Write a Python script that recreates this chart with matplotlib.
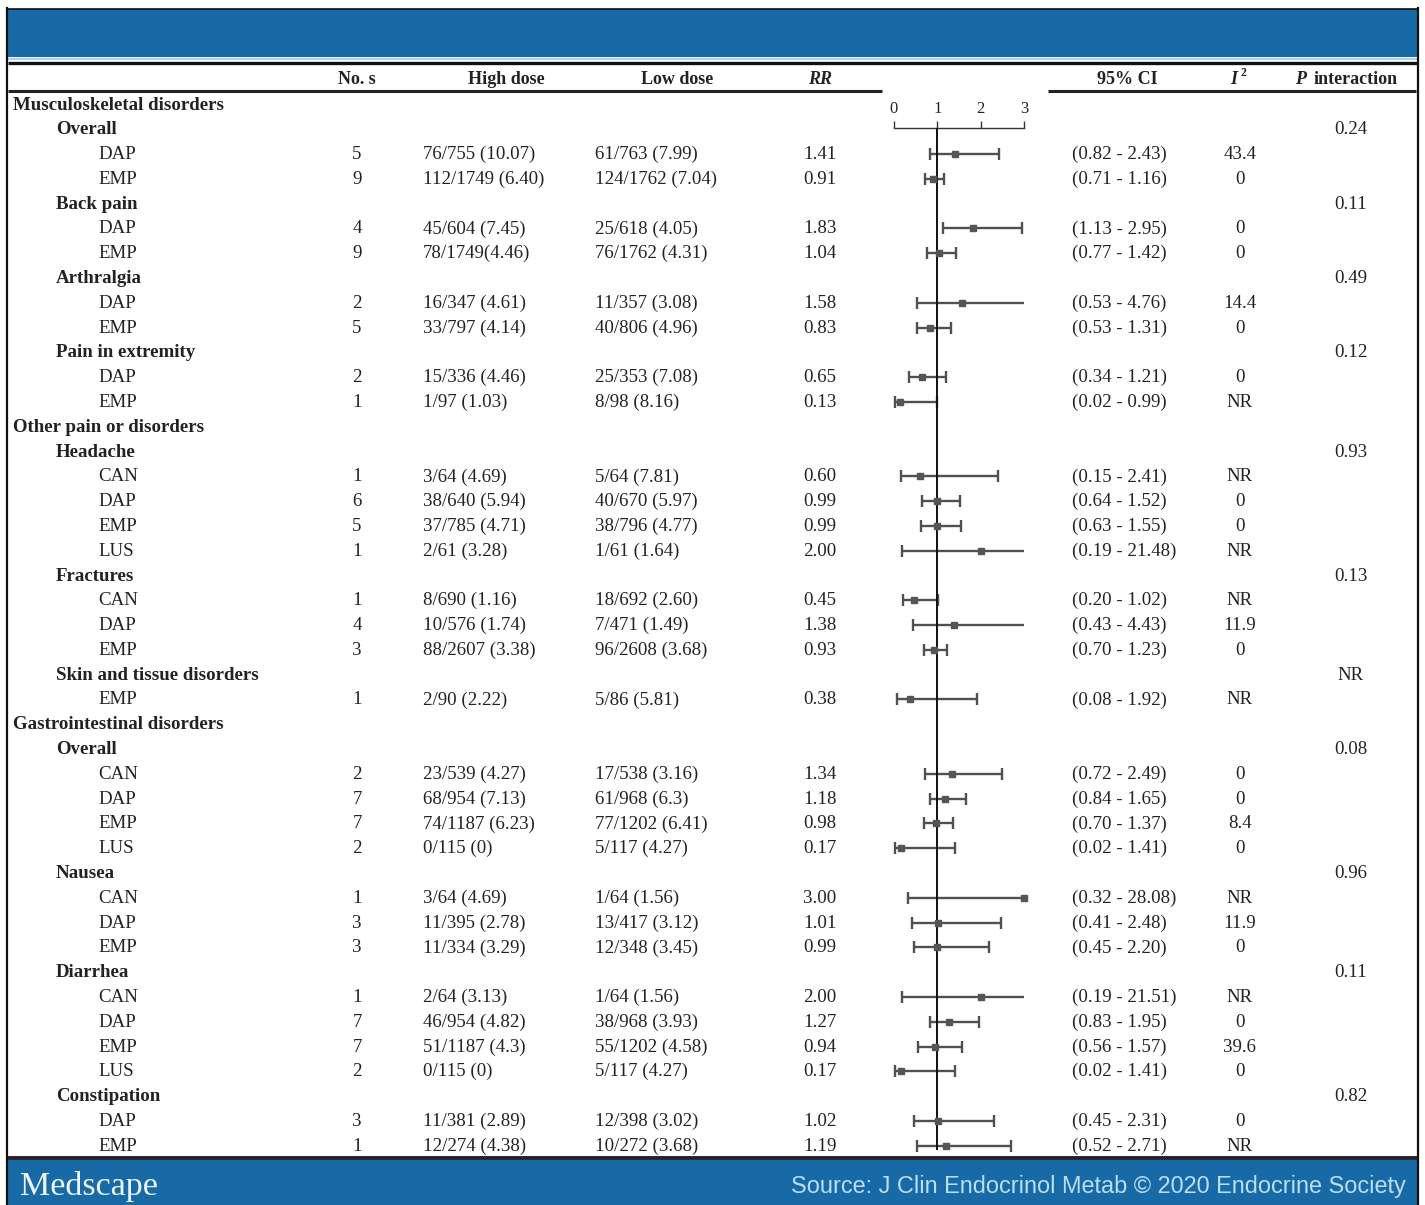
import numpy as np
import matplotlib
matplotlib.use("Agg")
import matplotlib.pyplot as plt
from matplotlib.patches import Rectangle

# ---- table content -------------------------------------------------------
categories = ["Musculoskeletal disorders", "Other pain or disorders",
              "Gastrointestinal disorders"]

subgroups = ["Overall", "Back pain", "Arthralgia", "Pain in extremity",
             "Headache", "Fractures", "Skin and tissue disorders",
             "Overall", "Nausea", "Diarrhea", "Constipation"]
subgroup_category = [0, 0, 0, 0, 1, 1, 1, 2, 2, 2, 2]
p_interaction = ["0.24", "0.11", "0.49", "0.12", "0.93", "0.13", "NR",
                 "0.08", "0.96", "0.11", "0.82"]

row_subgroup = [0, 0, 1, 1, 2, 2, 3, 3, 4, 4, 4, 4, 5, 5, 5, 6,
                7, 7, 7, 7, 8, 8, 8, 9, 9, 9, 9, 10, 10]
drug = ["DAP", "EMP", "DAP", "EMP", "DAP", "EMP", "DAP", "EMP",
        "CAN", "DAP", "EMP", "LUS", "CAN", "DAP", "EMP", "EMP",
        "CAN", "DAP", "EMP", "LUS", "CAN", "DAP", "EMP",
        "CAN", "DAP", "EMP", "LUS", "DAP", "EMP"]
n_studies = [5, 9, 4, 9, 2, 5, 2, 1, 1, 6, 5, 1, 1, 4, 3, 1,
             2, 7, 7, 2, 1, 3, 3, 1, 7, 7, 2, 3, 1]
high_dose = ["76/755 (10.07)", "112/1749 (6.40)", "45/604 (7.45)",
             "78/1749(4.46)", "16/347 (4.61)", "33/797 (4.14)",
             "15/336 (4.46)", "1/97 (1.03)", "3/64 (4.69)", "38/640 (5.94)",
             "37/785 (4.71)", "2/61 (3.28)", "8/690 (1.16)", "10/576 (1.74)",
             "88/2607 (3.38)", "2/90 (2.22)", "23/539 (4.27)", "68/954 (7.13)",
             "74/1187 (6.23)", "0/115 (0)", "3/64 (4.69)", "11/395 (2.78)",
             "11/334 (3.29)", "2/64 (3.13)", "46/954 (4.82)", "51/1187 (4.3)",
             "0/115 (0)", "11/381 (2.89)", "12/274 (4.38)"]
low_dose = ["61/763 (7.99)", "124/1762 (7.04)", "25/618 (4.05)",
            "76/1762 (4.31)", "11/357 (3.08)", "40/806 (4.96)",
            "25/353 (7.08)", "8/98 (8.16)", "5/64 (7.81)", "40/670 (5.97)",
            "38/796 (4.77)", "1/61 (1.64)", "18/692 (2.60)", "7/471 (1.49)",
            "96/2608 (3.68)", "5/86 (5.81)", "17/538 (3.16)", "61/968 (6.3)",
            "77/1202 (6.41)", "5/117 (4.27)", "1/64 (1.56)", "13/417 (3.12)",
            "12/348 (3.45)", "1/64 (1.56)", "38/968 (3.93)", "55/1202 (4.58)",
            "5/117 (4.27)", "12/398 (3.02)", "10/272 (3.68)"]
rr = [1.41, 0.91, 1.83, 1.04, 1.58, 0.83, 0.65, 0.13, 0.60, 0.99, 0.99,
      2.00, 0.45, 1.38, 0.93, 0.38, 1.34, 1.18, 0.98, 0.17, 3.00, 1.01,
      0.99, 2.00, 1.27, 0.94, 0.17, 1.02, 1.19]
ci_low = [0.82, 0.71, 1.13, 0.77, 0.53, 0.53, 0.34, 0.02, 0.15, 0.64, 0.63,
          0.19, 0.20, 0.43, 0.70, 0.08, 0.72, 0.84, 0.70, 0.02, 0.32, 0.41,
          0.45, 0.19, 0.83, 0.56, 0.02, 0.45, 0.52]
ci_high = [2.43, 1.16, 2.95, 1.42, 4.76, 1.31, 1.21, 0.99, 2.41, 1.52, 1.55,
           21.48, 1.02, 4.43, 1.23, 1.92, 2.49, 1.65, 1.37, 1.41, 28.08, 2.48,
           2.20, 21.51, 1.95, 1.57, 1.41, 2.31, 2.71]
i_squared = ["43.4", "0", "0", "0", "14.4", "0", "0", "NR", "NR", "0", "0",
             "NR", "NR", "11.9", "0", "NR", "0", "0", "8.4", "0", "NR", "11.9",
             "0", "NR", "0", "39.6", "0", "0", "NR"]
axis_ticks = [0, 1, 2, 3]

# ---- styling --------------------------------------------------------------
W, H = 1425, 1205
SERIF = ["Liberation Serif", "DejaVu Serif"]
FS = 13.6
TXT = "#222222"
BLUE = "#176aa6"
CI_COLOR = "#505050"

fig = plt.figure(figsize=(W / 100, H / 100), dpi=100)
ax = fig.add_axes([0, 0, 1, 1])
ax.set_xlim(0, W)
ax.set_ylim(H, 0)
ax.axis("off")

# frame, banner and rules
ax.add_patch(Rectangle((8, 9), 1410, 48, color=BLUE, lw=0))
ax.plot([8, 1418], [59, 59], color="#a9d4ee", lw=1.5, solid_capstyle="butt")
ax.plot([8, 1418], [62.5, 62.5], color="#111111", lw=2.4, solid_capstyle="butt")
ax.plot([8, 882], [91, 91], color="#222222", lw=2.2, solid_capstyle="butt")
ax.plot([1048, 1416], [91, 91], color="#222222", lw=2.2, solid_capstyle="butt")
ax.plot([8, 1418], [1157.5, 1157.5], color="#2a1f2a", lw=2.8, solid_capstyle="butt")
ax.add_patch(Rectangle((8, 1160), 1410, 45, color=BLUE, lw=0))
ax.plot([7, 7], [8, H], color="#111111", lw=1.6)
ax.plot([1418.5, 1418.5], [8, H], color="#111111", lw=1.6)
ax.plot([7, 1418.5], [8.5, 8.5], color="#111111", lw=1.2)

# header row
HY = 79.5
hkw = dict(fontsize=FS - 0.6, color=TXT, family=SERIF, va="center",
           fontweight="bold")
ax.text(357, HY, "No. s", ha="center", **hkw)
ax.text(506, HY, "High dose", ha="center", **hkw)
ax.text(677, HY, "Low dose", ha="center", **hkw)
ax.text(820, HY, "RR", ha="center", style="italic", **hkw)
ax.text(1127, HY, "95% CI", ha="center", **hkw)
ax.text(1230, HY, "I", ha="left", style="italic", **hkw)
ax.text(1241, HY - 6, "2", ha="left", fontsize=8.5, color=TXT, family=SERIF,
        va="center", fontweight="bold")
ax.text(1295, HY, "P", ha="left", style="italic", **hkw)
ax.text(1314, HY, "interaction", ha="left", **hkw)

# row ordering: category -> subgroup -> comparisons
rows = []
for c in range(len(categories)):
    rows.append(("cat", c))
    for s in range(len(subgroups)):
        if subgroup_category[s] != c:
            continue
        rows.append(("sub", s))
        for r in range(len(drug)):
            if row_subgroup[r] == s:
                rows.append(("cmp", r))

Y0, DY = 103.5, 24.79
row_y = Y0 + DY * np.arange(len(rows))
TEXT_DY = 1.5   # serif glyph box sits slightly high when centred

tkw = dict(fontsize=FS, color=TXT, family=SERIF, va="center")
cmp_y = {}
for (kind, idx), y in zip(rows, row_y):
    ty = y + TEXT_DY
    if kind == "cat":
        ax.text(13, ty, categories[idx], ha="left", fontweight="bold", **tkw)
    elif kind == "sub":
        ax.text(56, ty, subgroups[idx], ha="left", fontweight="bold", **tkw)
        ax.text(1351, ty, p_interaction[idx], ha="center", **tkw)
    else:
        cmp_y[idx] = y + 1
        ax.text(98, ty, drug[idx], ha="left", **tkw)
        ax.text(357, ty, str(n_studies[idx]), ha="center", **tkw)
        ax.text(423, ty, high_dose[idx], ha="left", **tkw)
        ax.text(595, ty, low_dose[idx], ha="left", **tkw)
        ax.text(820, ty, f"{rr[idx]:.2f}", ha="center", **tkw)
        ax.text(1072, ty, f"({ci_low[idx]:.2f} - {ci_high[idx]:.2f})",
                ha="left", **tkw)
        ax.text(1240, ty, i_squared[idx], ha="center", **tkw)

# ---- forest plot ----------------------------------------------------------
AX_Y = 128
fax = fig.add_axes([894 / W, 0, 130 / W, 1])
fax.set_xlim(axis_ticks[0], axis_ticks[-1])
fax.set_ylim(H, 0)
fax.patch.set_visible(False)
for side in ("left", "right", "bottom"):
    fax.spines[side].set_visible(False)
fax.spines["top"].set_position(("data", AX_Y))
fax.spines["top"].set_linewidth(1.0)
fax.spines["top"].set_color("#333333")
fax.xaxis.set_ticks_position("top")
fax.set_xticks(axis_ticks)
fax.set_xticklabels([str(t) for t in axis_ticks], family=SERIF, fontsize=12,
                    color=TXT)
fax.tick_params(axis="x", direction="out", length=5, width=1.0,
                color="#333333", pad=3)
fax.set_yticks([])

xmin, xmax = axis_ticks[0], axis_ticks[-1]
last_y = max(cmp_y.values())
fax.vlines(1, AX_Y, last_y + 4, color="#111111", lw=1.4, zorder=3)

for i in range(len(drug)):
    y = cmp_y[i]
    lo = max(ci_low[i], xmin)
    hi = min(ci_high[i], xmax)
    fax.hlines(y, lo, hi, color=CI_COLOR, lw=1.7, clip_on=False, zorder=2)
    fax.plot([lo], [y], marker="|", ms=8, mew=1.7, color=CI_COLOR,
             clip_on=False, zorder=2)
    if ci_high[i] <= xmax:
        fax.plot([hi], [y], marker="|", ms=8, mew=1.7, color=CI_COLOR,
                 clip_on=False, zorder=2)
    fax.plot([min(rr[i], xmax)], [y], marker="s", ms=5, color="#555555",
             clip_on=False, zorder=4)

# footer
ax.text(20, 1186, "Medscape", ha="left", va="center", fontsize=24.5,
        color="#eef6fb", family=SERIF)
ax.text(1406, 1187, "Source: J Clin Endocrinol Metab \u00a9 2020 Endocrine Society",
        ha="right", va="center", fontsize=16.9, color="#b9def5",
        family=["Liberation Sans", "DejaVu Sans"])

fig.savefig("out.png", dpi=100)
